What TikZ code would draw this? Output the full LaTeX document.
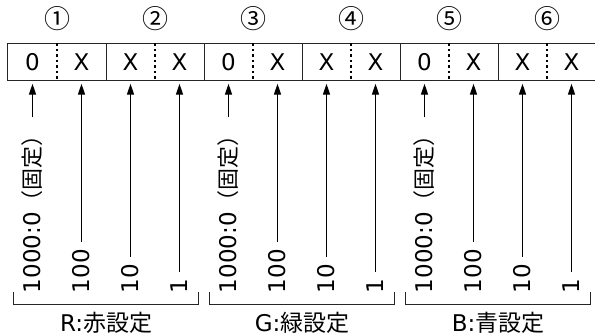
\documentclass[tikz,border=0pt]{standalone}
\usepackage{fontspec}
\setmainfont{DejaVu Sans}
\newfontfamily\cjkfont{Noto Sans CJK JP}
\usetikzlibrary{arrows.meta}
\tikzset{
  cell/.style={minimum width=49pt,minimum height=37pt,inner sep=0pt,font=\fontsize{23}{23}\selectfont},
  boxline/.style={line width=1.3pt,draw=black!85},
  divdot/.style={line width=1.6pt,draw=black,dash pattern=on 2.5pt off 3pt},
  circnum/.style={font=\cjkfont\fontsize{26}{26}\selectfont,inner sep=0pt},
  vlabel/.style={rotate=90,anchor=west,inner sep=0pt,outer sep=0pt,font=\fontsize{23}{23}\selectfont,text height=16.5pt,text depth=0pt},
  arr/.style={line width=1.2pt,-{Triangle[length=11pt,width=7pt]},shorten >=3pt,shorten <=7pt},
  bracket/.style={line width=1.2pt,draw=black!85},
  glabel/.style={font=\fontsize{23}{23}\selectfont,inner sep=0pt},
}
\newcommand\cjkl[1]{{\cjkfont\fontsize{22}{22}\selectfont #1}}
\newcommand\cjkg[1]{{\cjkfont\fontsize{23}{23}\selectfont #1}}
\begin{document}
\begin{tikzpicture}[x=1pt,y=-1pt]
\useasboundingbox (0,0) rectangle (595,336);
% cells
\foreach \i/\t in {1/0,2/X,3/X,4/X,5/0,6/X,7/X,8/X,9/0,10/X,11/X,12/X}
  \node[cell] (c\i) at ({8+24.5+49*(\i-1)},62) {\t};
% outline
\draw[boxline] (c12.north east) -- (c1.north west) -- (c1.south west) -- (c12.south east) -- cycle;
\foreach \i in {2,4,...,10}
  \draw[boxline] (c\i.north east) -- (c\i.south east);
\foreach \i in {1,3,...,11}
  \draw[divdot] (c\i.north east) -- (c\i.south east);
% circled numbers
\foreach \k/\m/\s in {1/1/①,2/3/②,3/5/③,4/7/④,5/9/⑤,6/11/⑥}
  \node[circnum] (n\k) at ([yshift=43pt]c\m.east) {\s};
% vertical labels and arrows
\foreach \g in {0,1,2} {
  \pgfmathtruncatemacro\na{4*\g+1}
  \pgfmathtruncatemacro\nb{4*\g+2}
  \pgfmathtruncatemacro\nc{4*\g+3}
  \pgfmathtruncatemacro\nd{4*\g+4}
  \node[vlabel] (l\na) at ([yshift=-212.5pt]c\na.south) {1000:0\cjkl{（固定）}};
  \node[vlabel] (l\nb) at ([yshift=-212.5pt]c\nb.south) {100};
  \node[vlabel] (l\nc) at ([yshift=-212.5pt]c\nc.south) {10};
  \node[vlabel] (l\nd) at ([yshift=-212.5pt]c\nd.south) {1};
  \draw[arr] (l\na.east) -- (c\na.south);
  \draw[arr] (l\nb.east) -- (c\nb.south);
  \draw[arr] (l\nc.east) -- (c\nc.south);
  \draw[arr] (l\nd.east) -- (c\nd.south);
  \draw[bracket] ([xshift=6pt,yshift=-211.5pt]c\na.south west) -- ++(0,12)
     -- ([xshift=-6pt,yshift=-223.5pt]c\nd.south east) -- ++(0,-12);
}
% group labels
\node[glabel] (g1) at ([yshift=-242.5pt]c2.south east) {R:\cjkg{赤設定}};
\node[glabel] (g2) at ([yshift=-242.5pt]c6.south east) {G:\cjkg{緑設定}};
\node[glabel] (g3) at ([yshift=-242.5pt]c10.south east) {B:\cjkg{青設定}};
\end{tikzpicture}
\end{document}
